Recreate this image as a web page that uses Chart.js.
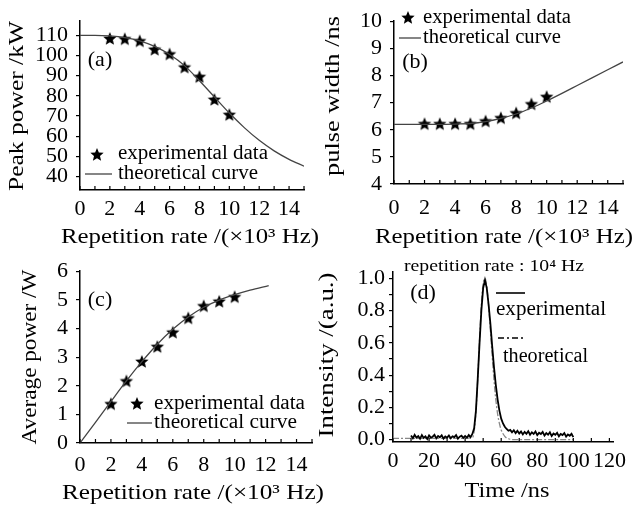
<!DOCTYPE html>
<html>
<head>
<meta charset="utf-8">
<script src="https://cdn.jsdelivr.net/npm/chart.js@4.4.0/dist/chart.umd.min.js"></script>
<style>
  html, body { margin: 0; padding: 0; background: #fff; }
  #wrap { position: relative; width: 634px; height: 509px; overflow: hidden; }
  .panel { position: absolute; }
</style>
</head>
<body>
<div id="wrap">
  <div class="panel" style="left:0;top:0;width:334px;height:250px"><canvas id="chartA"></canvas></div>
  <div class="panel" style="left:317px;top:0;width:317px;height:250px"><canvas id="chartB"></canvas></div>
  <div class="panel" style="left:0;top:250px;width:334px;height:259px"><canvas id="chartC"></canvas></div>
  <div class="panel" style="left:317px;top:250px;width:317px;height:259px"><canvas id="chartD"></canvas></div>
</div>
<script>
// ---- data ----
const rateTicks = [0, 1, 2, 3, 4, 5, 6, 7, 8, 9, 10, 11, 12, 13, 14, 15];
const rateTickLabels = [0, 2, 4, 6, 8, 10, 12, 14];

// (a) peak power
const expRate = [2, 3, 4, 5, 6, 7, 8, 9, 10];
const peakPower = [108.2, 108, 107, 102.8, 100.5, 94, 89.3, 78, 70.5];
const peakCurveRate = [0, 1, 2, 3, 4, 5, 6, 7, 8, 9, 10, 11, 12, 13, 14, 15];
const peakCurve = [110, 110, 109.7, 108.9, 107.3, 104.5, 100.5, 95, 87.5, 79.5, 71.5, 64.3, 58, 52.8, 48.6, 45.2];
const peakTicks = [40, 50, 60, 70, 80, 90, 100, 110];

// (b) pulse width
const pulseWidth = [6.2, 6.2, 6.2, 6.2, 6.3, 6.42, 6.6, 6.93, 7.2];
const widthCurveRate = [0, 1, 2, 3, 4, 5, 6, 7, 8, 9, 10, 11, 12, 13, 14, 15];
const widthCurve = [6.2, 6.2, 6.2, 6.2, 6.21, 6.23, 6.3, 6.42, 6.58, 6.8, 7.06, 7.34, 7.63, 7.92, 8.21, 8.5];
const widthTicks = [4, 5, 6, 7, 8, 9, 10];

// (c) average power
const avgPower = [1.35, 2.15, 2.83, 3.35, 3.85, 4.35, 4.77, 4.93, 5.09];
const avgCurveRate = [0, 1, 2, 3, 4, 5, 6, 7, 8, 9, 10, 11, 12.2];
const avgCurve = [0, 0.72, 1.45, 2.17, 2.84, 3.45, 3.97, 4.4, 4.74, 4.99, 5.18, 5.34, 5.5];
const avgTicks = [0, 1, 2, 3, 4, 5, 6];

// (d) pulse shape at 10^4 Hz
const expTime = [
  10, 11, 12, 13, 14, 15, 16, 17, 18, 19, 20, 21, 22, 23, 24, 25, 26, 27, 28, 29,
  30, 31, 32, 33, 34, 35, 36, 37, 38, 39, 40, 41, 42, 43, 44, 45, 46, 47, 48, 49,
  50, 51, 52, 53, 54, 55, 56, 57, 58, 59, 60, 61, 62, 63, 64, 65, 66, 67, 68, 69,
  70, 71, 72, 73, 74, 75, 76, 77, 78, 79, 80, 81, 82, 83, 84, 85, 86, 87, 88, 89,
  90, 91, 92, 93, 94, 95, 96, 97, 98, 99, 100
];
const expIntensity = [
  0.025, 0.008, 0.03, 0.012, 0.022, 0.005, 0.028, 0.01, 0.02, 0.004,
  0.026, 0.012, 0.018, 0.03, 0.008, 0.022, 0.014, 0.027, 0.006, 0.02,
  0.012, 0.025, 0.008, 0.02, 0.015, 0.028, 0.006, 0.018, 0.024, 0.01,
  0.022, 0.012, 0.028, 0.015, 0.035, 0.07, 0.18, 0.38, 0.6, 0.8,
  0.94, 0.99, 0.94, 0.84, 0.72, 0.58, 0.45, 0.34, 0.25, 0.18,
  0.13, 0.1, 0.08, 0.066, 0.055, 0.06, 0.045, 0.058, 0.04, 0.055,
  0.038, 0.05, 0.032, 0.048, 0.036, 0.052, 0.03, 0.045, 0.035, 0.05,
  0.028, 0.042, 0.034, 0.048, 0.025, 0.04, 0.03, 0.045, 0.022, 0.038,
  0.03, 0.042, 0.02, 0.035, 0.028, 0.04, 0.018, 0.032, 0.024, 0.036, 0.015
];
const theoTime = [0, 10, 20, 30, 40, 44, 45, 46, 47, 48, 49, 50, 51, 52, 53, 54, 55, 56, 57, 58, 59, 60, 62, 64, 66, 70, 80, 90, 100];
const theoIntensity = [0.008, 0.008, 0.008, 0.008, 0.008, 0.012, 0.05, 0.17, 0.38, 0.62, 0.84, 0.97, 1.0, 0.95, 0.83, 0.68, 0.52, 0.37, 0.25, 0.16, 0.1, 0.06, 0.02, 0.005, 0, 0, 0, 0, 0];
const timeTicks = [0, 10, 20, 30, 40, 50, 60, 70, 80, 90, 100, 110, 120];
const timeTickLabels = [0, 20, 40, 60, 80, 100, 120];
const intensityTicks = [0, 0.1, 0.2, 0.3, 0.4, 0.5, 0.6, 0.7, 0.8, 0.9, 1.0];
const intensityTickLabels = [0, 0.2, 0.4, 0.6, 0.8, 1.0];

// ---- drawing helpers ----
const FONT = "'Liberation Serif', 'Times New Roman', serif";
Chart.defaults.font.family = FONT;
Chart.defaults.font.size = 22;
Chart.defaults.color = '#000';

function makeStar(r) {
  const c = document.createElement('canvas');
  const s = Math.ceil(r * 2 + 2);
  c.width = s; c.height = s;
  const g = c.getContext('2d');
  g.beginPath();
  for (let i = 0; i < 10; i++) {
    const rad = i % 2 ? r * 0.45 : r;
    const a = -Math.PI / 2 + i * Math.PI / 5;
    g.lineTo(s / 2 + rad * Math.cos(a), s / 2 + rad * Math.sin(a));
  }
  g.closePath();
  g.fillStyle = '#000';
  g.fill();
  return c;
}
const star = makeStar(7);

const pts = (xs, ys) => xs.map((x, i) => ({ x: x, y: ys[i] }));

function drawText(ctx, it) {
  ctx.save();
  ctx.font = (it.size || 20) + 'px ' + FONT;
  ctx.fillStyle = '#000';
  ctx.textBaseline = 'middle';
  ctx.textAlign = it.align || 'left';
  ctx.translate(it.x, it.y);
  if (it.rot) ctx.rotate(-Math.PI / 2);
  if (it.w) {
    const m = ctx.measureText(it.text).width;
    ctx.scale(it.w / m, 1);
  }
  ctx.fillText(it.text, 0, 0);
  ctx.restore();
}

function line(ctx, x1, y1, x2, y2, color, width, dash) {
  ctx.save();
  ctx.strokeStyle = color;
  ctx.lineWidth = width;
  ctx.setLineDash(dash || []);
  ctx.beginPath();
  ctx.moveTo(x1, y1);
  ctx.lineTo(x2, y2);
  ctx.stroke();
  ctx.restore();
}

// texts, legend keys and inward x ticks
function decor(texts, keys) {
  return {
    id: 'decor',
    afterDraw(chart) {
      const ctx = chart.ctx;
      const sx = chart.scales.x;
      const bottom = chart.chartArea.bottom;
      sx.ticks.forEach(t => {
        const px = sx.getPixelForValue(t.value);
        line(ctx, px, bottom, px, bottom - 4, '#000', 1.2);
      });
      texts.forEach(it => drawText(ctx, it));
      keys.forEach(k => {
        if (k.star) ctx.drawImage(star, k.x - star.width / 2, k.y - star.height / 2);
        else line(ctx, k.x1, k.y, k.x2, k.y, k.color, k.width, k.dash);
      });
    }
  };
}

function makeChart(id, cfg) {
  const xTicks = cfg.xTicks, xLabels = cfg.xLabels, yTicks = cfg.yTicks, yLabels = cfg.yLabels;
  return new Chart(document.getElementById(id), {
    type: 'scatter',
    data: { datasets: cfg.datasets },
    options: {
      responsive: true,
      maintainAspectRatio: false,
      animation: false,
      layout: { padding: cfg.padding },
      plugins: { legend: { display: false }, tooltip: { enabled: false } },
      scales: {
        x: {
          type: 'linear', min: cfg.xMin, max: cfg.xMax,
          afterFit: s => { s.height = cfg.xHeight; },
          afterBuildTicks: s => { s.ticks = xTicks.map(v => ({ value: v })); },
          grid: { display: false, drawTicks: false },
          border: { color: '#000', width: 1.5 },
          ticks: {
            padding: cfg.xPad, maxRotation: 0, autoSkip: false,
            callback: v => xLabels.includes(v) ? String(v) : ''
          }
        },
        y: {
          type: 'linear', min: cfg.yMin, max: cfg.yMax,
          afterFit: s => { s.width = cfg.yWidth; },
          afterBuildTicks: s => { s.ticks = yTicks.map(v => ({ value: v })); },
          grid: { drawOnChartArea: false, drawTicks: true, tickLength: 4, color: '#000', lineWidth: 1.2 },
          border: { color: '#000', width: 1.5 },
          ticks: {
            padding: cfg.yPad, autoSkip: false,
            callback: v => yLabels.includes(v) ? cfg.yFmt(v) : ''
          }
        }
      }
    },
    plugins: [decor(cfg.texts, cfg.keys)]
  });
}

const curveStyle = { showLine: true, borderColor: '#444', borderWidth: 1.3, pointRadius: 0, cubicInterpolationMode: 'monotone', fill: false };
const starStyle = { showLine: false, pointStyle: star, pointRadius: 7, borderWidth: 0 };

// (a)
makeChart('chartA', {
  datasets: [
    Object.assign({ data: pts(peakCurveRate, peakCurve) }, curveStyle),
    Object.assign({ data: pts(expRate, peakPower) }, starStyle)
  ],
  xMin: 0, xMax: 15, yMin: 33.4, yMax: 117,
  xTicks: rateTicks, xLabels: rateTickLabels, yTicks: peakTicks, yLabels: peakTicks,
  yFmt: v => String(v),
  padding: { top: 13, right: 30, left: 0, bottom: 0 },
  xHeight: 60, yWidth: 80, xPad: 6, yPad: 8,
  texts: [
    { text: 'Peak power /kW', x: 17, y: 106, rot: true, size: 22, align: 'center', w: 170 },
    { text: 'Repetition rate /(\u00d710\u00b3 Hz)', x: 190, y: 237, size: 22, align: 'center', w: 258 },
    { text: '(a)', x: 100, y: 60, size: 22, align: 'center' },
    { text: 'experimental data', x: 118, y: 154, size: 20, w: 150 },
    { text: 'theoretical curve', x: 118, y: 174, size: 20, w: 140 }
  ],
  keys: [
    { star: true, x: 97, y: 155 },
    { x1: 85, x2: 112, y: 174, color: '#444', width: 1.3 }
  ]
});

// (b)
makeChart('chartB', {
  datasets: [
    Object.assign({ data: pts(widthCurveRate, widthCurve) }, curveStyle),
    Object.assign({ data: pts(expRate, pulseWidth) }, starStyle)
  ],
  xMin: 0, xMax: 15, yMin: 4, yMax: 10,
  xTicks: rateTicks, xLabels: rateTickLabels, yTicks: widthTicks, yLabels: widthTicks,
  yFmt: v => String(v),
  padding: { top: 15, right: 11, left: 0, bottom: 0 },
  xHeight: 66, yWidth: 77, xPad: 11, yPad: 8,
  texts: [
    { text: 'pulse width /ns', x: 16, y: 96, rot: true, size: 22, align: 'center', w: 160 },
    { text: 'Repetition rate /(\u00d710\u00b3 Hz)', x: 187, y: 237, size: 22, align: 'center', w: 258 },
    { text: '(b)', x: 98, y: 62, size: 22, align: 'center' },
    { text: 'experimental data', x: 106, y: 18, size: 20, w: 148 },
    { text: 'theoretical curve', x: 106, y: 38, size: 20, w: 138 }
  ],
  keys: [
    { star: true, x: 91, y: 18 },
    { x1: 82, x2: 104, y: 38, color: '#444', width: 1.3 }
  ]
});

// (c)
makeChart('chartC', {
  datasets: [
    Object.assign({ data: pts(avgCurveRate, avgCurve) }, curveStyle),
    Object.assign({ data: pts(expRate, avgPower) }, starStyle)
  ],
  xMin: 0, xMax: 15, yMin: 0, yMax: 6,
  xTicks: rateTicks, xLabels: rateTickLabels, yTicks: avgTicks, yLabels: avgTicks,
  yFmt: v => String(v),
  padding: { top: 17, right: 22, left: 0, bottom: 0 },
  xHeight: 66, yWidth: 80, xPad: 9, yPad: 8,
  texts: [
    { text: 'Average power /W', x: 30, y: 107, rot: true, size: 22, align: 'center', w: 175 },
    { text: 'Repetition rate /(\u00d710\u00b3 Hz)', x: 193, y: 243, size: 22, align: 'center', w: 262 },
    { text: '(c)', x: 100, y: 50, size: 22, align: 'center' },
    { text: 'experimental data', x: 154, y: 154, size: 20, w: 151 },
    { text: 'theoretical curve', x: 154, y: 173, size: 20, w: 143 }
  ],
  keys: [
    { star: true, x: 137, y: 154 },
    { x1: 127, x2: 152, y: 173, color: '#444', width: 1.3 }
  ]
});

// (d)
makeChart('chartD', {
  datasets: [
    { data: pts(expTime, expIntensity), showLine: true, borderColor: '#000', borderWidth: 1.8, pointRadius: 0, tension: 0 },
    { data: pts(theoTime, theoIntensity), showLine: true, borderColor: '#888', borderWidth: 1.3, borderDash: [6, 2, 2, 2], pointRadius: 0, cubicInterpolationMode: 'monotone' }
  ],
  xMin: 0, xMax: 122, yMin: -0.015, yMax: 1.04,
  xTicks: timeTicks, xLabels: timeTickLabels, yTicks: intensityTicks, yLabels: intensityTickLabels,
  yFmt: v => v.toFixed(1),
  padding: { top: 22, right: 21, left: 0, bottom: 0 },
  xHeight: 67, yWidth: 76, xPad: 6, yPad: 4,
  texts: [
    { text: 'Intensity /(a.u.)', x: 10, y: 105, rot: true, size: 22, align: 'center', w: 165 },
    { text: 'Time /ns', x: 190, y: 241, size: 22, align: 'center', w: 85 },
    { text: 'repetition rate : 10\u2074 Hz', x: 177, y: 17, size: 16, align: 'center', w: 180 },
    { text: '(d)', x: 106, y: 43, size: 22, align: 'center' },
    { text: 'experimental', x: 179, y: 60, size: 20, w: 110 },
    { text: 'theoretical', x: 186, y: 107, size: 20, w: 85 }
  ],
  keys: [
    { x1: 179, x2: 208, y: 43, color: '#000', width: 1.6 },
    { x1: 181, x2: 208, y: 88, color: '#000', width: 1.6, dash: [6, 3, 2, 3] }
  ]
});
</script>
</body>
</html>
